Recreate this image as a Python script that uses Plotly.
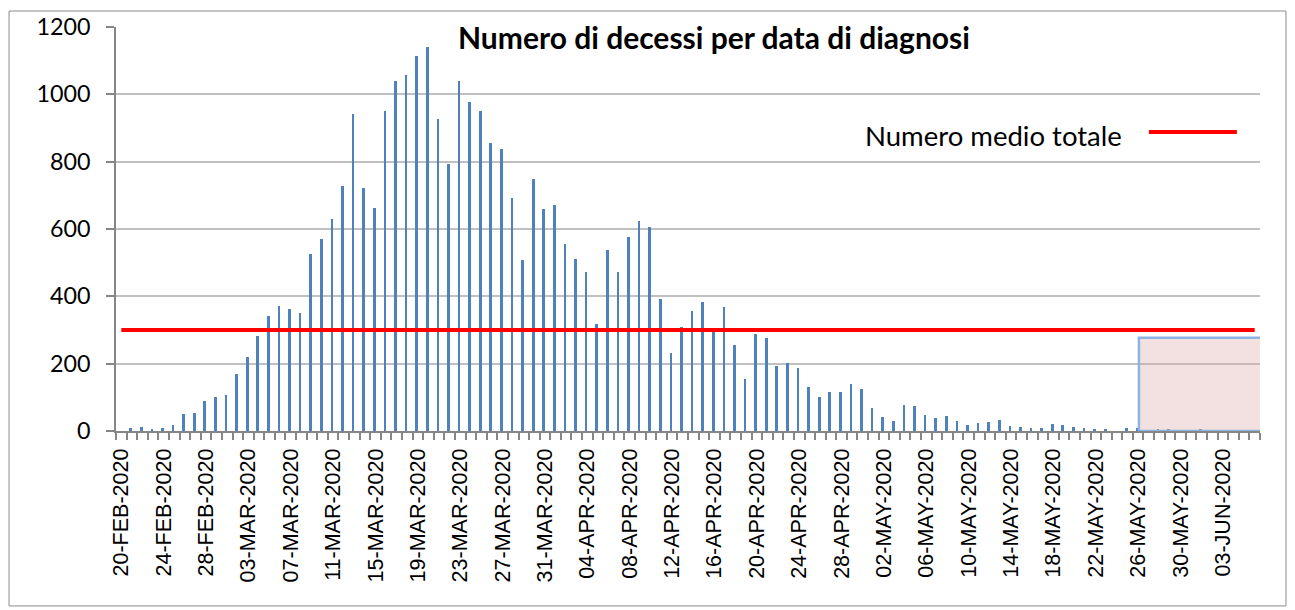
import pandas as pd
import plotly.graph_objects as go

# Categories: one per day of diagnosis
date_categories = [d.strftime("%d-%b-%Y").upper()
                   for d in pd.date_range("2020-02-20", "2020-06-06", freq="D")]

# Daily deaths by date of diagnosis
decessi = [
    0, 8, 11, 6, 10, 18, 50, 54, 88, 101,
    107, 169, 220, 282, 343, 372, 363, 351, 527, 571,
    631, 727, 942, 722, 663, 951, 1039, 1057, 1115, 1141,
    926, 793, 1039, 977, 951, 855, 837, 691, 507, 748,
    659, 671, 556, 510, 473, 318, 538, 472, 576, 625,
    607, 391, 231, 310, 355, 383, 296, 367, 255, 154,
    289, 275, 192, 202, 187, 131, 100, 116, 116, 140,
    125, 68, 41, 30, 78, 75, 48, 40, 44, 30,
    17, 24, 27, 33, 14, 13, 9, 8, 21, 17,
    11, 9, 6, 3, 0, 8, 8, 0, 4, 4,
    0, 0, 6, 0, 0, 0, 0, 0,
]

# Overall mean number (red reference line)
media_totale = 300
media_series = [media_totale] * len(date_categories)

# Tick labels: every 4th day
tick_text = [c if i % 4 == 0 else "" for i, c in enumerate(date_categories)]

# Highlighted (incomplete data) window, in category units
highlight_x = [96.07, 107.7]
highlight_y = [0, 277]

title_text = "Numero di decessi per data di diagnosi"
legend_text = "Numero medio totale"

fig = go.Figure()
fig.add_trace(go.Bar(
    x=date_categories, y=decessi,
    marker=dict(color="#4F81BD", line=dict(width=0)),
    width=0.25, offset=-0.24,
    showlegend=False,
))
fig.add_trace(go.Scatter(
    x=date_categories, y=media_series, mode="lines",
    line=dict(color="#FF0000", width=4),
    name="", showlegend=True,
))

fig.add_shape(
    type="rect", xref="x", yref="y",
    x0=highlight_x[0], x1=highlight_x[1], y0=highlight_y[0], y1=highlight_y[1],
    fillcolor="rgba(220,160,160,0.33)",
    line=dict(color="#8DB3E2", width=2.5),
    layer="above",
)

# Outer chart-area frame
fig.add_shape(
    type="rect", xref="paper", yref="paper",
    x0=-0.0935, x1=1.0227, y0=-0.433, y1=1.0396,
    line=dict(color="#8C8C8C", width=1), fillcolor="rgba(0,0,0,0)",
    layer="below",
)

fig.update_layout(
    width=1295, height=610,
    margin=dict(l=116, r=35, t=27, b=179),
    paper_bgcolor="white", plot_bgcolor="white",
    bargap=0,
    title=dict(
        text="<b>" + title_text + "</b>",
        x=0.5227, xref="paper", xanchor="center",
        y=1 - 38 / 610, yref="container", yanchor="middle",
        font=dict(family="Lato, Calibri, sans-serif", size=30, color="black"),
    ),
    legend=dict(
        x=0.6530, xanchor="left", y=0.7376, yanchor="middle",
        title=dict(text=legend_text + "\u00a0\u00a0", side="left",
                   font=dict(family="Lato, Calibri, sans-serif", size=27.5, color="black")),
        font=dict(family="Lato, sans-serif", size=24, color="black"),
        bgcolor="rgba(0,0,0,0)", itemwidth=88,
    ),
    xaxis=dict(
        type="category",
        tickmode="array", tickvals=date_categories, ticktext=tick_text,
        tickson="boundaries", ticks="outside", ticklen=7, tickwidth=1.5,
        tickcolor="#868686", tickangle=-90,
        tickfont=dict(family="Liberation Sans, Arial, sans-serif", size=21.5, color="black"),
        ticklabelstandoff=7,
        showline=True, linecolor="#868686", linewidth=2,
        showgrid=False, range=[-0.5, len(date_categories) - 0.5],
    ),
    yaxis=dict(
        range=[0, 1200], dtick=200, tick0=0,
        showgrid=True, gridcolor="#C0C0C0", gridwidth=1.5,
        zeroline=False,
        showline=True, linecolor="#868686", linewidth=1.5,
        ticks="outside", ticklen=8, tickwidth=1.5, tickcolor="#868686",
        tickfont=dict(family="Lato, Calibri, sans-serif", size=23.3, color="black"),
        ticklabelstandoff=11,
    ),
)

fig.write_html(
    "out.html",
    config={"displayModeBar": False},
    post_script="document.body.style.margin='0';document.body.style.overflow='hidden';",
)
